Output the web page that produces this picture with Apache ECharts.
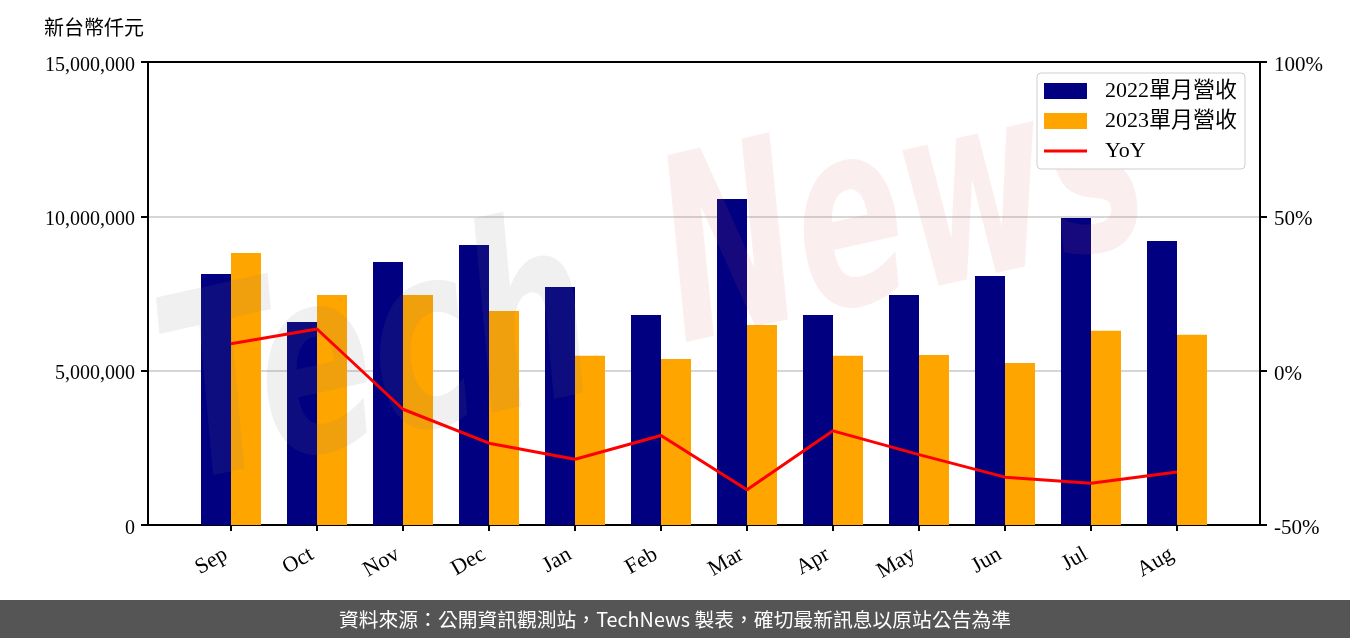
<!DOCTYPE html>
<html>
<head>
<meta charset="utf-8">
<script src="https://cdn.jsdelivr.net/npm/echarts@6/dist/echarts.min.js"></script>
<style>
html,body{margin:0;padding:0;background:#fff;}
#chart{width:1350px;height:638px;}
</style>
</head>
<body>
<div id="chart"></div>
<script>
const categories = ['Sep','Oct','Nov','Dec','Jan','Feb','Mar','Apr','May','Jun','Jul','Aug'];
const revenue2022 = [8130000,6580000,8520000,9070000,7710000,6800000,10560000,6800000,7450000,8070000,9950000,9200000];
const revenue2023 = [8810000,7450000,7450000,6930000,5480000,5380000,6480000,5480000,5510000,5250000,6290000,6160000];
const yoy = [8.7,13.5,-12.5,-23.5,-28.7,-21.0,-38.6,-19.5,-27.2,-34.5,-36.5,-32.8];
const seriesNames = ['2022單月營收','2023單月營收','YoY'];
const yUnit = '新台幣仟元';
const footer = '資料來源：公開資訊觀測站，TechNews 製表，確切最新訊息以原站公告為準';

const serif = '"Liberation Serif","Noto Sans CJK TC",serif';
const chart = echarts.init(document.getElementById('chart'));
const axisLine = {show:true, onZero:false, lineStyle:{color:'#000', width:2}};
const fmtNum = v => v.toLocaleString('en-US');

chart.setOption({
  animation:false,
  backgroundColor:'#fff',
  grid:[
    {left:148, right:90, top:62, bottom:113},
    {left:188, width:1032, top:62, bottom:113}
  ],
  legend:{
    orient:'vertical', left:1037, top:73,
    padding:[7,8,7,7],
    itemWidth:43, itemHeight:16, itemGap:8,
    borderColor:'#cfcfcf', borderWidth:1, borderRadius:4, backgroundColor:'#fff',
    textStyle:{fontFamily:serif, fontSize:22, color:'#000', padding:[0,0,0,13]},
    data:[
      {name:seriesNames[0], icon:'rect'},
      {name:seriesNames[1], icon:'rect'},
      {name:seriesNames[2], icon:'path://M0,0 L43,0 L43,3 L0,3 Z'}
    ]
  },
  xAxis:[
    {gridIndex:0, type:'value', min:0, max:1, position:'bottom', axisLine:axisLine, axisTick:{show:false}, axisLabel:{show:false}, splitLine:{show:false}},
    {gridIndex:0, type:'value', min:0, max:1, position:'top', axisLine:axisLine, axisTick:{show:false}, axisLabel:{show:false}, splitLine:{show:false}},
    {gridIndex:1, type:'category', data:categories, boundaryGap:true,
     axisLine:{show:false, onZero:false},
     axisTick:{show:true, alignWithLabel:true, length:6, lineStyle:{color:'#000', width:2}},
     axisLabel:{rotate:30, margin:25, fontFamily:serif, fontSize:22, color:'#000', padding:[0,6,0,0]}}
  ],
  yAxis:[
    {gridIndex:0, type:'value', min:0, max:15000000, interval:5000000, position:'left',
     axisLine:axisLine, axisTick:{show:true, length:7, lineStyle:{color:'#000', width:2}},
     axisLabel:{margin:13, fontFamily:serif, fontSize:20, color:'#000', formatter:fmtNum, verticalAlign:'top', lineHeight:7},
     splitLine:{show:true, lineStyle:{color:'#d6d6d6', width:2}}},
    {gridIndex:0, type:'value', min:-50, max:100, interval:50, position:'right',
     axisLine:axisLine, axisTick:{show:true, length:7, lineStyle:{color:'#000', width:2}},
     axisLabel:{margin:14, fontFamily:serif, fontSize:21, color:'#000', formatter:v=>v+'%', verticalAlign:'top', lineHeight:7},
     splitLine:{show:false}},
    {gridIndex:1, type:'value', min:0, max:15000000, interval:5000000, show:false},
    {gridIndex:1, type:'value', min:-50, max:100, interval:50, show:false}
  ],
  series:[
    {name:seriesNames[0], type:'bar', xAxisIndex:2, yAxisIndex:2, data:revenue2022, barWidth:30, barGap:'0%', itemStyle:{color:'#000080'}},
    {name:seriesNames[1], type:'bar', xAxisIndex:2, yAxisIndex:2, data:revenue2023, barWidth:30, barGap:'0%', itemStyle:{color:'#ffa500'}},
    {name:seriesNames[2], type:'line', xAxisIndex:2, yAxisIndex:3, data:yoy, symbol:'none', z:5, lineStyle:{color:'#ff0000', width:3}, itemStyle:{color:'#ff0000'}}
  ],
  graphic:[
    {type:'text', left:44, top:17, style:{text:yUnit, font:'20px "Noto Sans CJK TC"', fill:'#000'}},
    {type:'text', x:380, y:370, rotation:0.22, scaleY:1.5, z:3, silent:true,
     style:{text:'Tech', font:'italic bold 170px "DejaVu Sans"', fill:'rgba(120,120,120,0.11)', align:'center', verticalAlign:'middle'}},
    {type:'text', x:905, y:225, rotation:0.22, scaleY:1.6, z:3, silent:true,
     style:{text:'News', font:'italic bold 160px "DejaVu Sans"', fill:'rgba(215,90,100,0.10)', align:'center', verticalAlign:'middle'}},
    {type:'rect', left:0, top:600, shape:{width:1350, height:38}, style:{fill:'#555555'}},
    {type:'text', x:675, y:619, style:{text:footer, font:'19.8px "Noto Sans CJK TC"', fill:'#fff', align:'center', verticalAlign:'middle'}}
  ]
});
</script>
</body>
</html>
